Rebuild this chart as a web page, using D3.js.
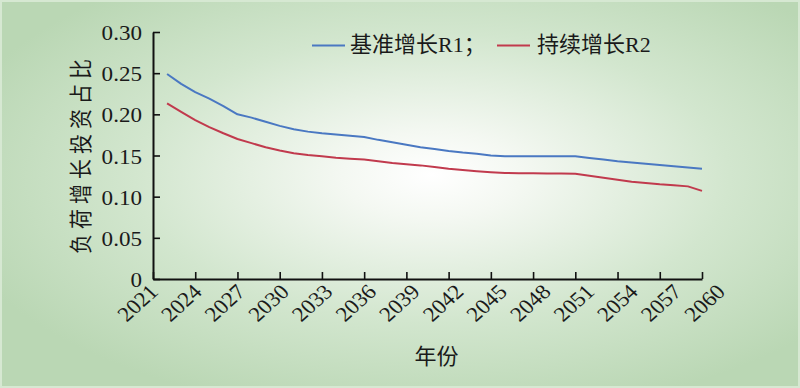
<!DOCTYPE html>
<html>
<head>
<meta charset="utf-8">
<script src="https://cdn.jsdelivr.net/npm/d3@7"></script>
<style>
  html, body { margin: 0; padding: 0; background: #ffffff; }
  svg { display: block; }
  .serif { font-family: "Liberation Serif", Tinos, "Times New Roman", "DejaVu Serif", serif; }
  .mixed { font-family: "Liberation Serif", "Noto Sans CJK SC", serif; }
  .cjk { font-family: "Noto Sans CJK SC", "Noto Sans CJK TC", sans-serif; }
</style>
</head>
<body>
<svg id="chart" width="800" height="388"></svg>
<script>
// ---- data ----
const years = [2022, 2023, 2024, 2025, 2026, 2027, 2028, 2029, 2030, 2031,
               2032, 2033, 2034, 2035, 2036, 2037, 2038, 2039, 2040, 2041,
               2042, 2043, 2044, 2045, 2046, 2047, 2048, 2049, 2050, 2051,
               2052, 2053, 2054, 2055, 2056, 2057, 2058, 2059, 2060];
const seriesR1 = [0.249, 0.237, 0.227, 0.219, 0.210, 0.200, 0.196, 0.191, 0.186, 0.182,
                  0.179, 0.177, 0.1755, 0.174, 0.1725, 0.169, 0.166, 0.163, 0.160, 0.158,
                  0.1555, 0.1535, 0.152, 0.150, 0.149, 0.149, 0.149, 0.149, 0.149, 0.149,
                  0.147, 0.145, 0.143, 0.1415, 0.140, 0.1385, 0.137, 0.1355, 0.134];
const seriesR2 = [0.2134, 0.203, 0.193, 0.1845, 0.177, 0.170, 0.165, 0.160, 0.156, 0.1527,
                  0.1505, 0.149, 0.1473, 0.146, 0.145, 0.143, 0.141, 0.1395, 0.138, 0.136,
                  0.134, 0.1325, 0.131, 0.1297, 0.1287, 0.1285, 0.1283, 0.1281, 0.128, 0.1279,
                  0.1255, 0.123, 0.1205, 0.118, 0.1165, 0.115, 0.114, 0.1125, 0.107];
const xTickYears = [2021, 2024, 2027, 2030, 2033, 2036, 2039, 2042, 2045, 2048, 2051, 2054, 2057, 2060];
const yTickValues = [0, 0.05, 0.10, 0.15, 0.20, 0.25, 0.30];
const seriesNames = ["基准增长R1；", "持续增长R2"];
const seriesColors = ["#4a78c2", "#c13a4d"];
const yTitle = "负荷增长投资占比";
const xTitle = "年份";

// ---- layout ----
const W = 800, H = 388;
const mLeft = 153, mRight = 702, mTop = 32, mBottom = 279;
const svg = d3.select("#chart");

// background
const defs = svg.append("defs");
const grad = defs.append("radialGradient")
  .attr("id", "bg").attr("cx", 0.54).attr("cy", 0.46).attr("r", 0.62)
  .attr("fx", 0.54).attr("fy", 0.45);
grad.append("stop").attr("offset", 0).attr("stop-color", "#ffffff");
grad.append("stop").attr("offset", 0.18).attr("stop-color", "#f4f8f2");
grad.append("stop").attr("offset", 0.6).attr("stop-color", "#d2e6ce");
grad.append("stop").attr("offset", 1).attr("stop-color", "#bad7b4");
svg.append("rect").attr("width", W).attr("height", H).attr("fill", "url(#bg)");
svg.append("rect").attr("x", 1).attr("y", 1).attr("width", W - 2).attr("height", H - 2)
  .attr("fill", "none").attr("stroke", "#d6e8d2").attr("stroke-width", 2);

// scales
const x = d3.scaleLinear().domain([2021, 2060]).range([mLeft, mRight]);
const y = d3.scaleLinear().domain([0, 0.30]).range([mBottom, mTop]);

// axes
const yAxis = d3.axisLeft(y).tickValues(yTickValues).tickSizeInner(-7).tickSizeOuter(0)
  .tickFormat(d => d === 0 ? "0" : d3.format(".2f")(d));
const gy = svg.append("g").attr("transform", `translate(${mLeft},0)`).call(yAxis);
gy.attr("font-family", null).attr("font-size", null);
gy.select(".domain").attr("stroke", "#111").attr("stroke-width", 2);
gy.selectAll(".tick line").attr("stroke", "#111").attr("stroke-width", 1.6);
gy.selectAll(".tick text")
  .attr("x", null).attr("dy", null)
  .attr("class", "serif")
  .attr("transform", "translate(-11,7.5) scale(1.1,1)")
  .attr("font-size", 21).attr("fill", "#1a1a1a")
  .attr("text-anchor", "end");

const xAxis = d3.axisBottom(x).tickValues(xTickYears).tickSizeInner(-7).tickSizeOuter(0)
  .tickFormat(d3.format("d"));
const gx = svg.append("g").attr("transform", `translate(0,${mBottom})`).call(xAxis);
gx.attr("font-family", null).attr("font-size", null);
gx.select(".domain").attr("stroke", "#111").attr("stroke-width", 2);
gx.selectAll(".tick line").attr("stroke", "#111").attr("stroke-width", 1.6);
gx.selectAll(".tick text")
  .attr("y", null).attr("dy", null)
  .attr("class", "serif")
  .attr("transform", d => {
    const off = 6 + (x(d) - mLeft) * (18 / (mRight - mLeft));
    return `translate(${off},14) scale(1.1,1) rotate(-45)`;
  })
  .attr("font-size", 21).attr("fill", "#1a1a1a")
  .attr("text-anchor", "end");

// lines
const line = d3.line().x((d, i) => x(years[i])).y(d => y(d));
[seriesR1, seriesR2].forEach((s, k) => {
  svg.append("path").datum(s)
    .attr("d", line)
    .attr("fill", "none")
    .attr("stroke", seriesColors[k])
    .attr("stroke-width", 2)
    .attr("stroke-linejoin", "round");
});

// legend
const legendItems = [
  { x1: 312, x2: 345, tx: 350 },
  { x1: 497, x2: 530, tx: 537 }
];
legendItems.forEach((it, k) => {
  svg.append("line").attr("x1", it.x1).attr("x2", it.x2).attr("y1", 45.5).attr("y2", 45.5)
    .attr("stroke", seriesColors[k]).attr("stroke-width", 2);
  svg.append("text").attr("x", it.tx).attr("y", 52)
    .attr("class", "mixed").attr("font-size", 22).attr("fill", "#1a1a1a")
    .text(seriesNames[k]);
});

// axis titles
svg.append("text")
  .attr("transform", "translate(89,154) rotate(-90) scale(1,1.12)")
  .attr("text-anchor", "middle")
  .attr("class", "cjk").attr("font-size", 20).attr("letter-spacing", 5)
  .attr("fill", "#1a1a1a")
  .text(yTitle);
svg.append("text")
  .attr("x", 436.5).attr("y", 364)
  .attr("text-anchor", "middle")
  .attr("class", "cjk").attr("font-size", 22).attr("fill", "#1a1a1a")
  .text(xTitle);
</script>
</body>
</html>
